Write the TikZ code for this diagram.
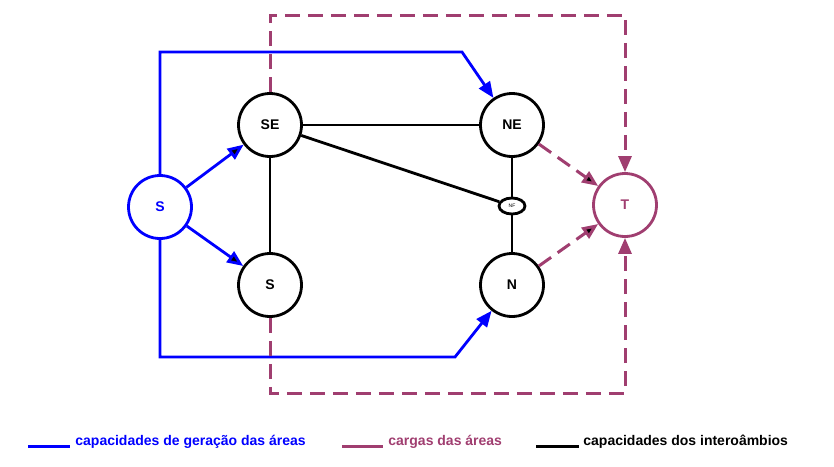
\documentclass[tikz,border=0pt]{standalone}
\usepackage{fontspec}
\setmainfont{Liberation Sans}
\usetikzlibrary{arrows.meta,shapes.geometric}
\definecolor{carga}{RGB}{160,62,112}
\begin{document}
\begin{tikzpicture}[x=1pt, y=-1pt, line width=2.8pt,
    main/.style = {draw, circle, minimum size=63pt, inner sep=0pt, font=\fontsize{14}{16}\selectfont\bfseries},
    fict/.style = {draw, ellipse, minimum width=26pt, minimum height=16pt, inner sep=0pt, font=\fontsize{5}{6}\selectfont},
    gen/.style = {draw=blue, -{Triangle[length=16pt,width=13pt]}},
    load/.style = {draw=carga, line width=3pt, dash pattern=on 15pt off 8pt, -{Triangle[length=16pt,width=13pt]}},
    link/.style = {draw=black},
    legend/.style = {anchor=west, inner sep=0pt, font=\fontsize{14}{16}\selectfont\bfseries}]
        \useasboundingbox (0,0) rectangle (834,466);

        \node[main, draw=blue, text=blue] (src) at (160,207) {S};
        \node[main] (se) at (270,125) {SE};
        \node[main] (ne) at (512,125) {NE};
        \node[main] (s) at (270,285) {S};
        \node[main] (n) at (512,285) {N};
        \node[fict] (nf) at (512,206) {NF};
        \node[main, draw=carga, text=carga] (snk) at (625,205) {T};

        \coordinate (gTop) at (462,52);
        \coordinate (gBot) at (455,357);
        \coordinate (lTop) at (625,15);
        \coordinate (lBot) at (625,393);

        % interligacoes
        \path[link] (se) edge (ne);
        \path[link] (se) edge (nf);
        \path[link] (se) edge (s);
        \path[link] (ne) edge (nf);
        \path[link] (nf) edge (n);

        % geracao
        \path[gen] (src) edge (se);
        \path[gen] (src) edge (s);
        \draw[gen] (src.north) |- (gTop) -- (ne);
        \draw[gen] (src.south) |- (gBot) -- (n);

        % cargas
        \path[load] (ne) edge (snk);
        \path[load] (n) edge (snk);
        \draw[load] (se.north) |- (lTop) -- (snk.north);
        \draw[load] (s.south) |- (lBot) -- (snk.south);

        % legenda
        \node[legend, text=blue] (lg1) at (74,442) {capacidades de geração das áreas};
        \node[legend, text=carga] (lg2) at (387,442) {cargas das áreas};
        \node[legend] (lg3) at (582,442) {capacidades dos interoâmbios};
        \draw[blue, line width=3pt] (28,446) -- (70,446);
        \draw[carga, line width=3pt] (342,446) -- (383,446);
        \draw[black, line width=3pt] (536,446) -- (579,446);
\end{tikzpicture}
\end{document}
